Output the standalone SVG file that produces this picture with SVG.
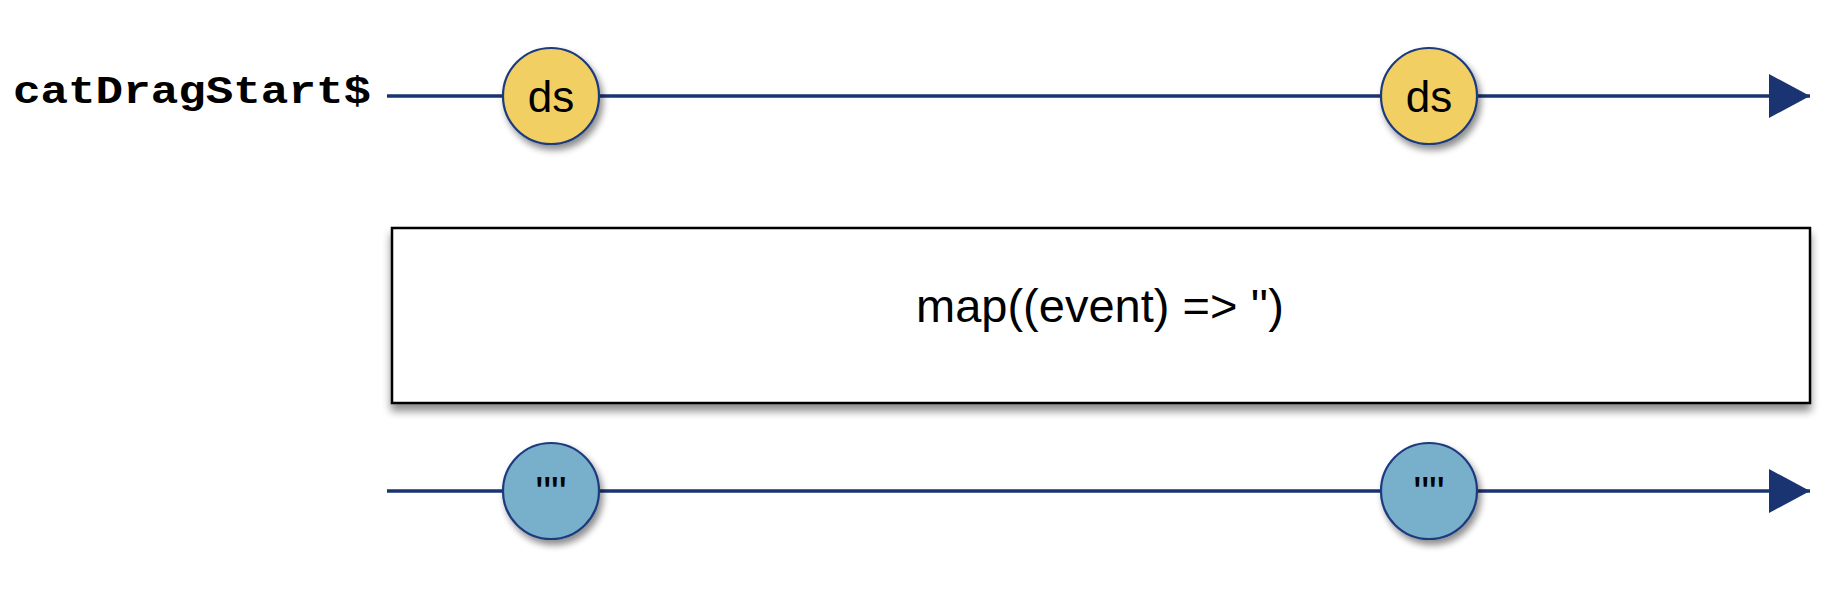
<svg xmlns="http://www.w3.org/2000/svg" width="1826" height="590" viewBox="0 0 1826 590">
<defs>
<filter id="sh" x="-30%" y="-30%" width="160%" height="170%">
<feGaussianBlur in="SourceAlpha" stdDeviation="3.5"/>
<feOffset dx="3" dy="5" result="b"/>
<feComponentTransfer><feFuncA type="linear" slope="0.45"/></feComponentTransfer>
<feMerge><feMergeNode/><feMergeNode in="SourceGraphic"/></feMerge>
</filter>
<filter id="shbox" x="-5%" y="-20%" width="110%" height="150%">
<feGaussianBlur in="SourceAlpha" stdDeviation="4"/>
<feOffset dx="0" dy="7" result="b"/>
<feComponentTransfer><feFuncA type="linear" slope="0.45"/></feComponentTransfer>
<feMerge><feMergeNode/><feMergeNode in="SourceGraphic"/></feMerge>
</filter>
<marker id="arr" markerUnits="userSpaceOnUse" markerWidth="42" markerHeight="44" refX="41" refY="22" orient="auto">
<path d="M0,0 L41,22 L0,44 Z" fill="#1A3472"/>
</marker>
</defs>
<style>
.line{stroke:#1A3472;stroke-width:3.5;fill:none}
.marble{stroke:#1D3A7E;stroke-width:2.2;filter:url(#sh)}
.yel{fill:#F1CF62}
.blu{fill:#78AFCA}
.lbl{font-family:"Liberation Sans",Arial,sans-serif;font-size:44px;fill:#000;text-anchor:middle}
.name{font-family:"Liberation Mono","Courier New",monospace;font-weight:bold;font-size:38px;fill:#000}
</style>
<g id="connectors">
<line class="line" x1="387" y1="96" x2="1810" y2="96" marker-end="url(#arr)"/>
<line class="line" x1="387" y1="491" x2="1810" y2="491" marker-end="url(#arr)"/>
</g>
<g id="label-catDragStart">
<text class="name" x="13" y="103" textLength="358" lengthAdjust="spacingAndGlyphs">catDragStart$</text>
</g>
<g id="ds1">
<circle class="marble yel" cx="551" cy="96" r="48"/>
<text class="lbl" x="551" y="112">ds</text>
</g>
<g id="ds2">
<circle class="marble yel" cx="1429" cy="96" r="48"/>
<text class="lbl" x="1429" y="112">ds</text>
</g>
<g id="operator">
<rect x="392" y="228" width="1418" height="175" fill="#fff" stroke="#000" stroke-width="2.5" filter="url(#shbox)"/>
<text x="1100" y="322" font-family="&quot;Liberation Sans&quot;,Arial,sans-serif" font-size="47" text-anchor="middle">map((event) =&gt; '')</text>
</g>
<g id="out1">
<circle class="marble blu" cx="551" cy="491" r="48"/>
<text class="lbl" x="551" y="508">""</text>
</g>
<g id="out2">
<circle class="marble blu" cx="1429" cy="491" r="48"/>
<text class="lbl" x="1429" y="508">""</text>
</g>
</svg>
